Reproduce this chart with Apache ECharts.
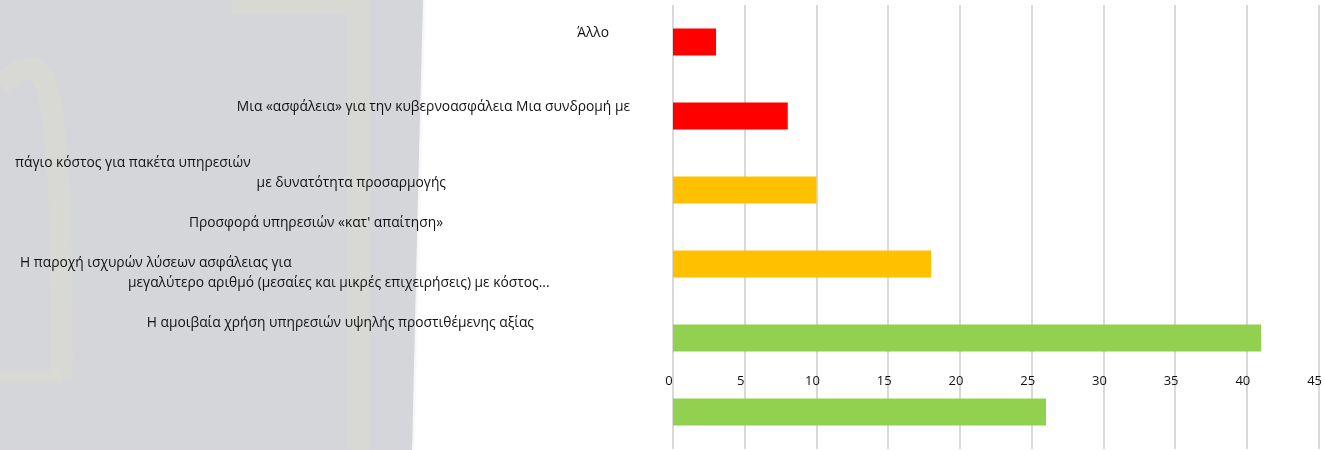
<!DOCTYPE html>
<html>
<head>
<meta charset="utf-8">
<script src="https://cdn.jsdelivr.net/npm/echarts@6/dist/echarts.min.js"></script>
<style>
  html, body { margin: 0; padding: 0; background: #ffffff; }
  #chart { width: 1325px; height: 450px; }
</style>
</head>
<body>
<div id="chart"></div>
<script>
// Survey answers, top to bottom
var categories = [
  'Άλλο',
  'Μια «ασφάλεια» για την κυβερνοασφάλεια',
  'Μια συνδρομή με πάγιο κόστος για πακέτα υπηρεσιών με δυνατότητα προσαρμογής',
  'Προσφορά υπηρεσιών «κατ\' απαίτηση»',
  'Η παροχή ισχυρών λύσεων ασφάλειας για μεγαλύτερο αριθμό (μεσαίες και μικρές επιχειρήσεις) με κόστος...',
  'Η αμοιβαία χρήση υπηρεσιών υψηλής προστιθέμενης αξίας'
];
var values = [3, 8, 10, 18, 41, 26];
var barColors = ['#FF0000', '#FF0000', '#FFC000', '#FFC000', '#92D050', '#92D050'];
var xTicks = { min: 0, max: 45, step: 5 };

// Text lines of the category captions as they are laid out on the slide
var captionLines = [
  'Άλλο',
  'Μια «ασφάλεια» για την κυβερνοασφάλεια Μια συνδρομή με',
  'πάγιο κόστος για πακέτα υπηρεσιών',
  'με δυνατότητα προσαρμογής',
  'Προσφορά υπηρεσιών «κατ\' απαίτηση»',
  'Η παροχή ισχυρών λύσεων ασφάλειας για',
  'μεγαλύτερο αριθμό (μεσαίες και μικρές επιχειρήσεις) με κόστος...',
  'Η αμοιβαία χρήση υπηρεσιών υψηλής προστιθέμενης αξίας'
];
// [x, y, align] for each caption line
var captionPlace = [
  [609, 33, 'right'],
  [630, 107, 'right'],
  [15, 163, 'left'],
  [446, 183, 'right'],
  [443, 223, 'right'],
  [20, 263, 'left'],
  [128, 283, 'left'],
  [534, 323, 'right']
];

var FONT = '"Open Sans", "Noto Sans", sans-serif';
var EMBLEM = 'rgba(226,224,204,0.28)';

var chart = echarts.init(document.getElementById('chart'), null, { renderer: 'canvas' });

var graphics = [
  // grey backdrop panel on the left
  {
    type: 'polygon', z: -10, silent: true,
    shape: { points: [[0, 0], [423, 0], [419, 150], [412, 450], [0, 450]] },
    style: { fill: '#d4d6d9', shadowBlur: 5, shadowColor: 'rgba(0,0,0,0.10)' }
  },
  // faint emblem strokes on the panel
  {
    type: 'polyline', z: -9, silent: true,
    shape: { points: [[232, 3], [358, 3], [358, 450]] },
    style: { stroke: EMBLEM, lineWidth: 22, fill: null }
  },
  {
    type: 'bezierCurve', z: -9, silent: true,
    shape: { x1: 0, y1: 84, x2: 62, y2: 380, cpx1: 45, cpy1: 50, cpx2: 62, cpy2: 40 },
    style: { stroke: EMBLEM, lineWidth: 22, fill: null }
  },
  {
    type: 'polyline', z: -9, silent: true,
    shape: { points: [[0, 376], [62, 376]] },
    style: { stroke: EMBLEM, lineWidth: 14, fill: null }
  }
];

captionLines.forEach(function (t, i) {
  var p = captionPlace[i];
  graphics.push({
    type: 'text', z: 5, silent: true,
    x: p[0], y: p[1],
    style: {
      text: t, fill: '#111111', font: '13.8px ' + FONT,
      textAlign: p[2], textVerticalAlign: 'middle'
    }
  });
});

chart.setOption({
  animation: false,
  backgroundColor: 'transparent',
  grid: { left: 673, right: 1, top: 5, bottom: 1, containLabel: false },
  xAxis: {
    type: 'value',
    min: xTicks.min, max: xTicks.max, interval: xTicks.step,
    position: 'bottom',
    offset: -68,
    axisLine: { show: false },
    axisTick: { show: false },
    axisLabel: {
      margin: 0, verticalAlign: 'middle', color: '#111111',
      fontFamily: FONT, fontSize: 13, padding: [0, 8, 0, 0]
    },
    splitLine: { lineStyle: { color: '#d9d9d9', width: 2 } }
  },
  yAxis: {
    type: 'category',
    data: categories,
    inverse: true,
    axisLine: { show: false },
    axisTick: { show: false },
    axisLabel: { show: false },
    splitLine: { show: false }
  },
  series: [{
    type: 'bar',
    data: values.map(function (v, i) {
      return { value: v, itemStyle: { color: barColors[i] } };
    }),
    barWidth: 27,
    silent: true
  }],
  graphic: graphics
});
</script>
</body>
</html>
